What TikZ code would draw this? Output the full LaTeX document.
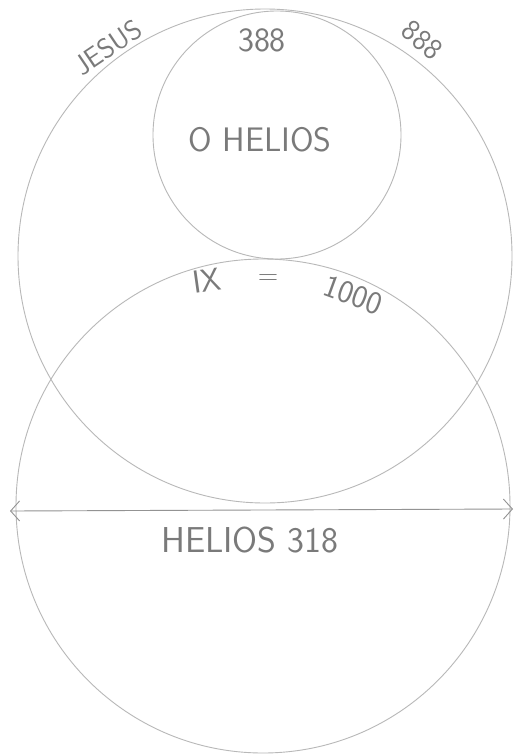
\documentclass[tikz,border=0pt]{standalone}
\usetikzlibrary{arrows.meta}
\definecolor{pencil}{HTML}{B8B8B8}
\definecolor{ink}{HTML}{7A7A7A}
\tikzset{
  ring/.style={draw=pencil, line width=0.9pt, circle, inner sep=0pt},
  arr/.style={draw=pencil!80!black, line width=0.9pt, {Straight Barb[length=9pt,width=20pt]}-{Straight Barb[length=9pt,width=20pt]}},
  hand/.style={text=ink, inner sep=0pt, font=\sffamily},
}
\begin{document}
\begin{tikzpicture}[x=1pt,y=-1pt]
\useasboundingbox[fill=white] (0,0) rectangle (519,755);
\node[ring, minimum size=494pt] (jesus) at (265,256) {};
\node[ring, minimum size=248pt] (ohelios) at (277,135) {};
\node[ring, minimum size=494pt] (helios) at (263,506) {};
\coordinate (al) at (10,511);
\coordinate (ar) at (513,509);
\draw[arr] (al) -- (ar);
\node[hand, rotate=34, font=\sffamily\fontsize{28}{28}\selectfont] (tjesus) at (108,47) {JESUS};
\node[hand, font=\sffamily\fontsize{34}{34}\selectfont] (t388) at (262,40) {388};
\node[hand, rotate=-40, font=\sffamily\fontsize{30}{30}\selectfont] (t888) at (422,40) {888};
\node[hand, font=\sffamily\fontsize{34}{34}\selectfont] (tohelios) at (260,140) {O HELIOS};
\node[hand, rotate=8, font=\sffamily\fontsize{32}{32}\selectfont] (tix) at (207,281) {IX};
\node[hand, font=\sffamily\fontsize{28}{28}\selectfont] (teq) at (268,280) {=};
\node[hand, rotate=-20, font=\sffamily\fontsize{32}{32}\selectfont] (t1000) at (353,295) {1000};
\node[hand, font=\sffamily\fontsize{36}{36}\selectfont] (thelios) at (250,540) {HELIOS 318};
\end{tikzpicture}
\end{document}
